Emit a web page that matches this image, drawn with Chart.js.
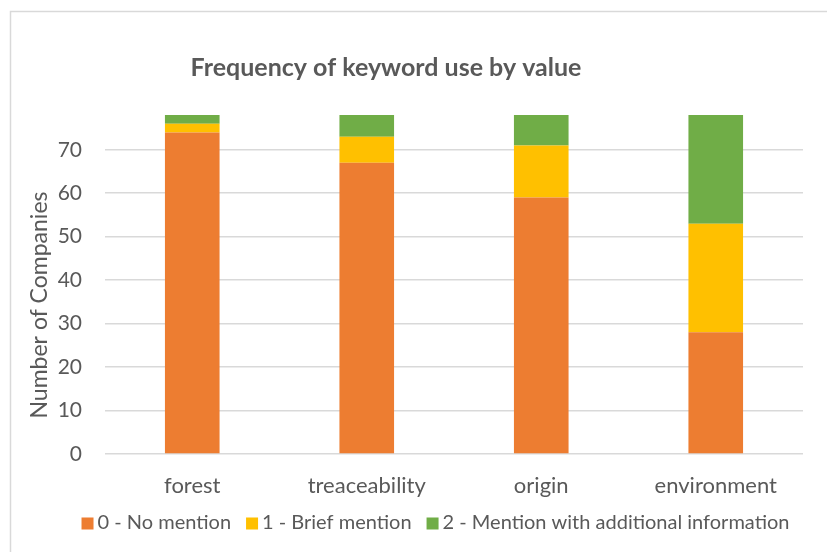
<!DOCTYPE html>
<html>
<head>
<meta charset="utf-8">
<script src="https://cdn.jsdelivr.net/npm/chart.js@4/dist/chart.umd.min.js"></script>
<style>
  html, body { margin: 0; padding: 0; background: #ffffff; }
  #wrap { width: 827px; height: 552px; position: relative; }
</style>
</head>
<body>
<div id="wrap"><canvas id="c" width="827" height="552"></canvas></div>
<script>
const categories = ["forest", "treaceability", "origin", "environment"];
const noMention = [74, 67, 59, 28];
const briefMention = [2, 6, 12, 25];
const additionalInfo = [2, 5, 7, 25];
const seriesNames = ["0 - No mention", "1 - Brief mention", "2 - Mention with additional information"];
const chartTitle = "Frequency of keyword use by value";
const yAxisTitle = "Number of Companies";
const yMax = 78;
const yStep = 10;

const textColor = "#595959";
const fontFamily = "Lato, 'Open Sans', sans-serif";

const decorations = {
  id: "decorations",
  beforeDraw(chart) {
    const ctx = chart.ctx;
    ctx.save();
    ctx.strokeStyle = "#d9d9d9";
    ctx.lineWidth = 1.5;
    ctx.beginPath();
    ctx.moveTo(10.5, chart.height);
    ctx.lineTo(10.5, 11.5);
    ctx.lineTo(chart.width, 11.5);
    ctx.stroke();
    ctx.restore();
  },
  afterDraw(chart) {
    const ctx = chart.ctx;
    ctx.save();
    ctx.fillStyle = textColor;
    ctx.textAlign = "center";
    ctx.textBaseline = "middle";
    ctx.font = "bold 25px " + fontFamily;
    ctx.fillText(chartTitle, 386, 68);
    ctx.save();
    ctx.translate(40, 305);
    ctx.rotate(-Math.PI / 2);
    ctx.font = "23px " + fontFamily;
    ctx.fillText(yAxisTitle, 0, 0);
    ctx.restore();

    // legend built from the chart's own datasets
    const box = 12, gapText = 4, gapItem = 15;
    ctx.font = "20px " + fontFamily;
    const items = chart.data.datasets.map(ds => ({
      text: ds.label, color: ds.backgroundColor, w: ctx.measureText(ds.label).width
    }));
    let total = 0;
    items.forEach((it, i) => { total += box + gapText + it.w + (i < items.length - 1 ? gapItem : 0); });
    let x = 435.5 - total / 2;
    const cy = 523.5;
    ctx.textAlign = "left";
    items.forEach(it => {
      ctx.fillStyle = it.color;
      ctx.fillRect(x, cy - box / 2, box, box);
      x += box + gapText;
      ctx.fillStyle = textColor;
      ctx.fillText(it.text, x, cy - 1);
      x += it.w + gapItem;
    });
    ctx.restore();
  }
};

new Chart(document.getElementById("c"), {
  type: "bar",
  data: {
    labels: categories,
    datasets: [
      { label: seriesNames[0], data: noMention, backgroundColor: "#ED7D31" },
      { label: seriesNames[1], data: briefMention, backgroundColor: "#FFC000" },
      { label: seriesNames[2], data: additionalInfo, backgroundColor: "#70AD47" }
    ]
  },
  options: {
    responsive: false,
    animation: false,
    barPercentage: 0.313,
    categoryPercentage: 1.0,
    layout: { padding: { left: 0, right: 24, top: 115, bottom: 51 } },
    plugins: {
      title: { display: false },
      tooltip: { enabled: false },
      legend: { display: false }
    },
    scales: {
      x: {
        stacked: true,
        grid: { display: false, drawTicks: false },
        border: { display: false },
        ticks: { color: textColor, font: { family: fontFamily, size: 22 }, padding: 19 },
        afterFit(scale) { scale.height = 47; }
      },
      y: {
        stacked: true,
        min: 0,
        max: yMax,
        afterBuildTicks(scale) {
          scale.ticks = scale.ticks.filter(t => t.value % yStep === 0);
        },
        ticks: { stepSize: yStep, color: textColor, font: { family: fontFamily, size: 21 }, padding: 23 },
        grid: { color: "#d9d9d9", lineWidth: 1.5, drawTicks: false },
        border: { display: false },
        afterFit(scale) { scale.width = 105; }
      }
    }
  },
  plugins: [decorations]
});
</script>
</body>
</html>
